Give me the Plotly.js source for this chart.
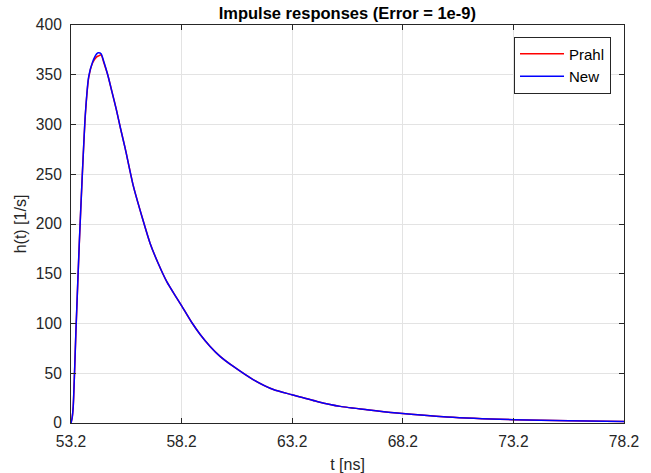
<!DOCTYPE html>
<html>
<head>
<meta charset="utf-8">
<script src="https://cdn.plot.ly/plotly-3.0.1.min.js"></script>
<style>html,body{margin:0;padding:0;background:#fff;}#chart{width:651px;height:473px;}</style>
</head>
<body>
<div id="chart"></div>
<script>
// time axis [ns]
const t = [53.2, 53.25, 53.30, 53.43, 53.58, 53.70, 53.85, 54.0, 54.18, 54.36, 54.45, 54.56, 54.7, 54.86, 55.05, 55.25, 55.45, 55.65, 56.02, 56.40, 56.77, 57.15, 57.53, 57.91, 58.21, 58.66, 59.04, 59.49, 59.94, 60.54, 61.45, 62.35, 63.19, 64.32, 65.37, 66.58, 67.94, 70.2, 73.21, 75.7, 78.2];
// impulse responses h(t) [1/s]
const hPrahl = [0, 5, 16, 96, 183, 244, 310, 347, 362, 368, 369, 370, 361, 350, 333, 315, 295, 276, 238, 208, 181, 160, 142, 128, 117.5, 101, 89, 77, 67, 56.8, 43.4, 33.6, 28.4, 21.7, 16.7, 13.3, 10, 6, 3.3, 2.2, 1.5];
const hNew   = [0, 5, 16.7, 97, 184, 244, 311, 348, 363, 371, 372, 371, 362, 350, 333, 315, 295, 276, 238, 208, 181, 160, 142, 128, 117.5, 101, 89, 77, 67, 56.8, 43.4, 33.6, 28.4, 21.7, 16.7, 13.3, 10, 6, 3.3, 2.2, 1.5];
const xTicks = [53.2, 58.2, 63.2, 68.2, 73.2, 78.2];
const yTicks = [0, 50, 100, 150, 200, 250, 300, 350, 400];

const axisColor = '#262626';
const gridColor = '#e3e3e3';
const fontFam = '"Liberation Sans", Arial, Helvetica, sans-serif';

const traces = [
  {x: t, y: hPrahl, name: 'Prahl', mode: 'lines', line: {color: '#ff0000', width: 1.5, shape: 'spline', smoothing: 0.6}},
  {x: t, y: hNew, name: 'New', mode: 'lines', line: {color: '#0000ff', width: 1.5, shape: 'spline', smoothing: 0.6}}
];

const layout = {
  width: 651, height: 473,
  margin: {l: 71, r: 27, t: 25, b: 50},
  paper_bgcolor: '#ffffff', plot_bgcolor: '#ffffff',
  font: {family: fontFam, size: 16, color: axisColor},
  title: {text: '<b>Impulse responses (Error = 1e-9)</b>', font: {size: 16.5, color: '#000000', family: fontFam},
          x: 0.5335, xref: 'container', xanchor: 'center', y: 0.9725, yref: 'container', yanchor: 'middle'},
  xaxis: {
    range: [53.2, 78.2], tickvals: xTicks, ticktext: xTicks.map(v => v.toFixed(1)),
    showgrid: true, gridcolor: gridColor, gridwidth: 1, zeroline: false,
    showline: true, linecolor: axisColor, linewidth: 1, mirror: 'allticks',
    ticks: 'inside', ticklen: 5, tickcolor: axisColor, ticklabelstandoff: 4,
    tickfont: {size: 15.6, color: axisColor},
    title: {text: 't [ns]', font: {size: 16, color: axisColor}, standoff: 11}
  },
  yaxis: {
    range: [0, 400], tickvals: yTicks,
    showgrid: true, gridcolor: gridColor, gridwidth: 1, zeroline: false,
    showline: true, linecolor: axisColor, linewidth: 1, mirror: 'allticks',
    ticks: 'inside', ticklen: 5, tickcolor: axisColor, ticklabelstandoff: 5,
    tickfont: {size: 15.6, color: axisColor},
    title: {text: 'h(t) [1/s]', font: {size: 16, color: axisColor}, standoff: 5}
  },
  legend: {
    x: 0.9765, xanchor: 'right', y: 0.971, yanchor: 'top',
    bgcolor: '#ffffff', bordercolor: axisColor, borderwidth: 1,
    font: {size: 15, color: '#000000'},
    tracegroupgap: 0, itemwidth: 44
  },
  showlegend: true
};

Plotly.newPlot('chart', traces, layout, {displayModeBar: false, staticPlot: true});
</script>
</body>
</html>
